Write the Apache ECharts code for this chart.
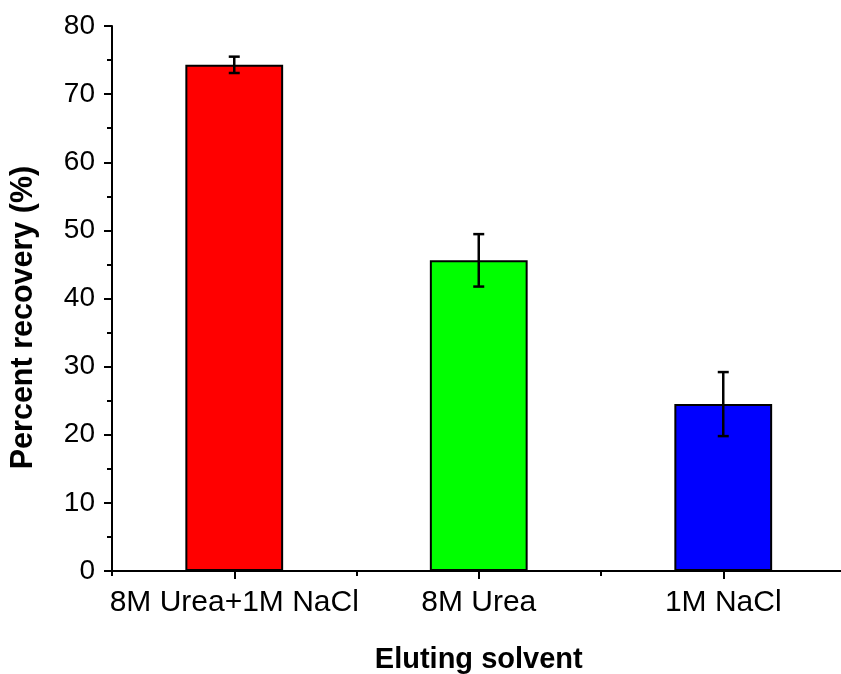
<!DOCTYPE html>
<html><head><meta charset="utf-8">
<script src="https://cdn.jsdelivr.net/npm/echarts@6/dist/echarts.min.js"></script>
<style>html,body{margin:0;padding:0;background:#fff}#c{width:841px;height:674px}</style>
</head><body><div id="c"></div>
<script>
const categories = ['8M Urea+1M NaCl', '8M Urea', '1M NaCl'];
const recovery = [74.3, 45.6, 24.5];
const errors = [1.2, 3.85, 4.7];
const barColors = ['#FF0000', '#00FF00', '#0000FF'];

const FONT = '"Liberation Sans", Arial, sans-serif';
const chart = echarts.init(document.getElementById('c'));
const errData = categories.map((c, i) => [i, recovery[i] - errors[i], recovery[i] + errors[i]]);
chart.setOption({
  animation: false,
  backgroundColor: '#fff',
  grid: { left: 112, right: -4.5, top: 26, bottom: 103, containLabel: false, outerBoundsMode: 'none' },
  xAxis: [{
    type: 'category', data: categories, boundaryGap: true,
    axisLine: { lineStyle: { color: '#000', width: 2 } },
    axisTick: { show: true, interval: 0, alignWithLabel: true, length: 8, lineStyle: { color: '#000', width: 2 } },
    axisLabel: { color: '#000', fontSize: 30, fontFamily: FONT, margin: 17, interval: 0 },
    name: 'Eluting solvent', nameLocation: 'middle', nameGap: 74,
    nameTextStyle: { color: '#000', fontSize: 29, fontWeight: 'bold', fontFamily: FONT }
  }, {
    type: 'category', data: categories, boundaryGap: true, position: 'bottom',
    axisLine: { show: false },
    axisTick: { show: true, interval: 0, alignWithLabel: false, length: 5, lineStyle: { color: '#000', width: 2 } },
    axisLabel: { show: false }
  }],
  yAxis: {
    type: 'value', min: 0, max: 80, interval: 10,
    axisLine: { show: true, lineStyle: { color: '#000', width: 2 } },
    axisTick: { show: true, length: 8, lineStyle: { color: '#000', width: 2 } },
    minorTick: { show: true, splitNumber: 2, length: 5, lineStyle: { color: '#000', width: 2 } },
    splitLine: { show: false },
    axisLabel: { color: '#000', fontSize: 28, fontFamily: FONT, margin: 17 },
    name: 'Percent recovery (%)', nameLocation: 'middle', nameGap: 73,
    nameTextStyle: { color: '#000', fontSize: 30.5, fontWeight: 'bold', fontFamily: FONT, padding: [0, 38, 0, 0] }
  },
  series: [{
    type: 'bar', xAxisIndex: 0, barWidth: '40%',
    data: recovery.map((v, i) => ({ value: v, itemStyle: { color: barColors[i] } })),
    itemStyle: { borderColor: '#000', borderWidth: 2 }
  }, {
    type: 'custom', xAxisIndex: 0, data: errData, z: 10,
    renderItem: function (params, api) {
      const x = api.value(0);
      const lo = api.coord([x, api.value(1)]);
      const hi = api.coord([x, api.value(2)]);
      const hw = 5.5;
      const st = { stroke: '#000', lineWidth: 2.5 };
      return { type: 'group', children: [
        { type: 'line', shape: { x1: lo[0], y1: lo[1], x2: hi[0], y2: hi[1] }, style: st },
        { type: 'line', shape: { x1: lo[0] - hw, y1: lo[1], x2: lo[0] + hw, y2: lo[1] }, style: st },
        { type: 'line', shape: { x1: hi[0] - hw, y1: hi[1], x2: hi[0] + hw, y2: hi[1] }, style: st }
      ]};
    }
  }]
});
</script></body></html>
